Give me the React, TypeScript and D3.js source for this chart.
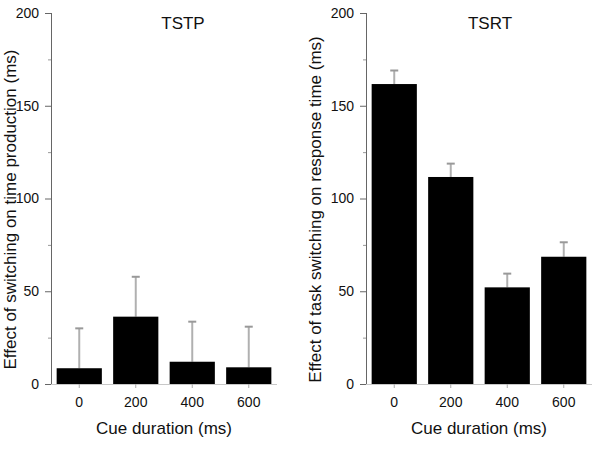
import React, { useRef, useEffect } from 'react';
import * as d3 from 'd3';

// Cue durations on the x axis (ms)
const cueDurations = ['0', '200', '400', '600'];

// Switch cost on time production (TSTP), mean and upper error
const tstpMeans = [8.5, 36.3, 12, 9];
const tstpErrors = [21.5, 21.5, 21.6, 21.9];

// Switch cost on response time (TSRT), mean and upper error
const tsrtMeans = [161.7, 111.6, 52.1, 68.6];
const tsrtErrors = [7.3, 7.2, 7.4, 7.8];

const yTicks = [0, 50, 100, 150, 200];
const yMinorTicks = [25, 75, 125, 175];

const width = 592;
const height = 449;

interface PanelSpec {
  title: string;
  yLabel: string;
  means: number[];
  errors: number[];
  axisX: number;
  titleX: number;
  yLabelX: number;
}

const panels: PanelSpec[] = [
  {
    title: 'TSTP',
    yLabel: 'Effect of switching on time production (ms)',
    means: tstpMeans,
    errors: tstpErrors,
    axisX: 51,
    titleX: 183,
    yLabelX: 16,
  },
  {
    title: 'TSRT',
    yLabel: 'Effect of task switching on response time (ms)',
    means: tsrtMeans,
    errors: tsrtErrors,
    axisX: 366,
    titleX: 490,
    yLabelX: 321,
  },
];

const App: React.FC = () => {
  const svgRef = useRef<SVGSVGElement>(null);

  useEffect(() => {
    if (!svgRef.current) return;
    const svg = d3.select(svgRef.current);
    svg.selectAll('*').remove();

    const font = '"Liberation Sans", Arial, sans-serif';
    const plotTop = 13;
    const plotBottom = 384;
    const plotWidth = 226;

    const yScale = d3.scaleLinear().domain([0, 200]).range([plotBottom, plotTop]);

    panels.forEach(p => {
      const g = svg.append('g');

      const xScale = d3.scaleBand<string>()
        .domain(cueDurations)
        .range([p.axisX, p.axisX + plotWidth])
        .paddingInner(0.2)
        .paddingOuter(0.1);
      const mid = (c: string) => xScale(c)! + xScale.bandwidth() / 2;

      // x axis baseline and ticks under each bar
      g.append('line')
        .attr('x1', p.axisX)
        .attr('x2', p.axisX + plotWidth)
        .attr('y1', plotBottom + 0.5)
        .attr('y2', plotBottom + 0.5)
        .attr('stroke', '#c8c8c8')
        .attr('stroke-width', 1);

      g.selectAll('.xtick')
        .data(cueDurations)
        .enter()
        .append('line')
        .attr('x1', d => mid(d))
        .attr('x2', d => mid(d))
        .attr('y1', plotBottom)
        .attr('y2', plotBottom + 4)
        .attr('stroke', '#aaa');

      g.selectAll('.xlabel')
        .data(cueDurations)
        .enter()
        .append('text')
        .attr('x', d => mid(d))
        .attr('y', plotBottom + 23)
        .attr('text-anchor', 'middle')
        .style('font-family', font)
        .style('font-size', '14px')
        .attr('fill', '#111')
        .text(d => d);

      g.append('text')
        .attr('x', p.axisX + plotWidth / 2)
        .attr('y', plotBottom + 50)
        .attr('text-anchor', 'middle')
        .style('font-family', font)
        .style('font-size', '17px')
        .attr('fill', '#111')
        .text('Cue duration (ms)');

      // y axis with major and minor ticks
      g.append('line')
        .attr('x1', p.axisX + 0.5)
        .attr('x2', p.axisX + 0.5)
        .attr('y1', plotTop)
        .attr('y2', plotBottom)
        .attr('stroke', '#666');

      g.selectAll('.ytick')
        .data(yTicks)
        .enter()
        .append('line')
        .attr('x1', p.axisX - 6)
        .attr('x2', p.axisX)
        .attr('y1', d => yScale(d) + 0.5)
        .attr('y2', d => yScale(d) + 0.5)
        .attr('stroke', '#666');

      g.selectAll('.yminor')
        .data(yMinorTicks)
        .enter()
        .append('line')
        .attr('x1', p.axisX - 3)
        .attr('x2', p.axisX)
        .attr('y1', d => yScale(d) + 0.5)
        .attr('y2', d => yScale(d) + 0.5)
        .attr('stroke', '#999');

      g.selectAll('.ylabel')
        .data(yTicks)
        .enter()
        .append('text')
        .attr('x', p.axisX - 12)
        .attr('y', d => yScale(d))
        .attr('dy', '0.35em')
        .attr('text-anchor', 'end')
        .style('font-family', font)
        .style('font-size', '14px')
        .attr('fill', '#111')
        .text(d => d);

      g.append('text')
        .attr('transform', `translate(${p.yLabelX},${(plotTop + plotBottom) / 2 + 11}) rotate(-90)`)
        .attr('text-anchor', 'middle')
        .style('font-family', font)
        .style('font-size', '17px')
        .attr('fill', '#111')
        .text(p.yLabel);

      // error bars (upper only) drawn behind the bars
      const barData = cueDurations.map((c, i) => ({ c, mean: p.means[i], err: p.errors[i] }));

      g.selectAll('.err')
        .data(barData)
        .enter()
        .append('line')
        .attr('x1', d => mid(d.c))
        .attr('x2', d => mid(d.c))
        .attr('y1', d => yScale(d.mean))
        .attr('y2', d => yScale(d.mean + d.err))
        .attr('stroke', '#b0b0b0')
        .attr('stroke-width', 2);

      g.selectAll('.cap')
        .data(barData)
        .enter()
        .append('line')
        .attr('x1', d => mid(d.c) - 4)
        .attr('x2', d => mid(d.c) + 4)
        .attr('y1', d => yScale(d.mean + d.err))
        .attr('y2', d => yScale(d.mean + d.err))
        .attr('stroke', '#999')
        .attr('stroke-width', 2);

      g.selectAll('.bar')
        .data(barData)
        .enter()
        .append('rect')
        .attr('x', d => xScale(d.c)!)
        .attr('y', d => yScale(d.mean))
        .attr('width', xScale.bandwidth())
        .attr('height', d => plotBottom - yScale(d.mean))
        .attr('fill', '#000');

      g.append('text')
        .attr('x', p.titleX)
        .attr('y', 29)
        .attr('text-anchor', 'middle')
        .style('font-family', font)
        .style('font-size', '17px')
        .attr('fill', '#111')
        .text(p.title);
    });
  }, []);

  return (
    <svg
      ref={svgRef}
      width={width}
      height={height}
      style={{ position: 'absolute', left: 0, top: 0, background: '#fff' }}
    />
  );
};

export default App;
